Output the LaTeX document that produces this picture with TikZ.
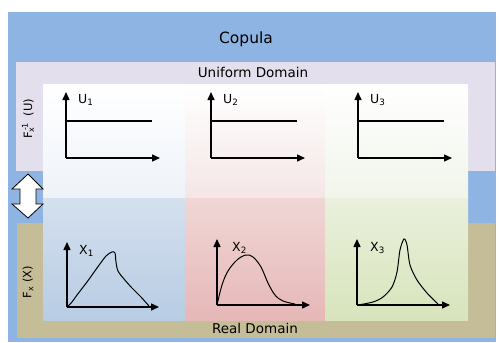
\documentclass[tikz,border=0pt]{standalone}
\usepackage{fontspec}
\setmainfont{DejaVu Sans}
\usetikzlibrary{arrows.meta}
\definecolor{copulablue}{HTML}{8EB4E3}
\definecolor{unifbg}{HTML}{E4DFEC}
\definecolor{realbg}{HTML}{C4BD97}
\definecolor{bluetop}{HTML}{EEF3F9}
\definecolor{bluemid}{HTML}{D4E0EE}
\definecolor{bluebot}{HTML}{B8CCE4}
\definecolor{redtop}{HTML}{F5E6E6}
\definecolor{redmid}{HTML}{F0D6D6}
\definecolor{redbot}{HTML}{E6B8B7}
\definecolor{greentop}{HTML}{F1F5EA}
\definecolor{greenmid}{HTML}{EAF0DC}
\definecolor{greenbot}{HTML}{D7E4BC}
\tikzset{
  ax/.style={line width=1.4pt, -{Triangle[length=8pt,width=7pt]}},
  dens/.style={line width=1pt},
  lbl/.style={font=\fontsize{12.5}{14}\selectfont, inner sep=0pt, anchor=base west},
  side/.style={font=\fontsize{11.5}{13}\selectfont, rotate=90, inner sep=0pt},
}

\begin{document}
\begin{tikzpicture}[x=1pt,y=-1pt]
\useasboundingbox (0,0) rectangle (499,343);

% domains
\fill[copulablue] (8,12) rectangle (496,342);
\fill[unifbg] (16,62) rectangle (495,171);
\fill[realbg] (17,223) rectangle (495,338);

% three columns
\foreach \xa/\xb/\ct/\cm/\cb in {43/185/bluetop/bluemid/bluebot, 185/325/redtop/redmid/redbot, 325/468/greentop/greenmid/greenbot}{
  \shade[top color=white, bottom color=\ct] (\xa,84) rectangle (\xb,198);
  \shade[top color=\cm, bottom color=\cb] (\xa,198) rectangle (\xb,320);
}

\node[font=\fontsize{15.5}{17}\selectfont, anchor=base] (copula) at (246,43) {Copula};
\node[font=\fontsize{13.5}{15}\selectfont, anchor=base] (unif) at (253,77) {Uniform Domain};
\node[font=\fontsize{13.5}{15}\selectfont, anchor=base] (real) at (255,333) {Real Domain};
\node[side] (finv) at (28,119) {F\rlap{\textsuperscript{\,-1}}\textsubscript{x}\hspace{0.6em} (U)};
\node[side] (fx) at (28,282) {F\textsubscript{x} (X)};

% double arrow
\draw[fill=white, line width=0.8pt, line join=miter]
  (28,174) -- (43,189) -- (36,189) -- (36,204) -- (43,204) -- (28,218)
  -- (12,204) -- (20,204) -- (20,189) -- (12,189) -- cycle;

% uniform plots
\foreach \x/\n in {66/1, 211/2, 358/3}{
  \draw[ax] (\x,158) -- (\x,92);
  \draw[ax] (\x,158) -- (\x+94,158);
  \draw[line width=1.1pt] (\x,121) -- (\x+86,121);
  \node[lbl] (u\n) at (\x+12,103) {U\textsubscript{\n}};
}

% real plots
\draw[ax] (67,307) -- (67,242);
\draw[ax] (67,307) -- (159,307);
\node[lbl] (x1) at (79,254) {X\textsubscript{1}};
\draw[dens] plot[smooth, tension=0.5] coordinates {(67,307) (72,302) (77,295) (87,282) (97,268) (106,256) (112,252) (115,253) (116,262) (118,271) (124,279) (132,288) (141,297) (149,306)};

\draw[ax] (217,305) -- (217,239);
\draw[ax] (217,305) -- (310,305);
\node[lbl] (x2) at (232,251) {X\textsubscript{2}};
\draw[dens] plot[smooth, tension=0.6] coordinates {(217,305) (222,285) (228,271) (237,260) (246,255) (253,257) (261,267) (268,283) (275,295) (283,301) (295,304)};

\draw[ax] (357,305) -- (357,239);
\draw[ax] (357,305) -- (450,305);
\node[lbl] (x3) at (370,251) {X\textsubscript{3}};
\draw[dens] plot[smooth, tension=0.5] coordinates {(358,305) (373,302) (383,297) (392,287) (397,272) (400,250) (404,239) (407,245) (410,265) (417,280) (427,293) (438,304)};
\end{tikzpicture}
\end{document}
